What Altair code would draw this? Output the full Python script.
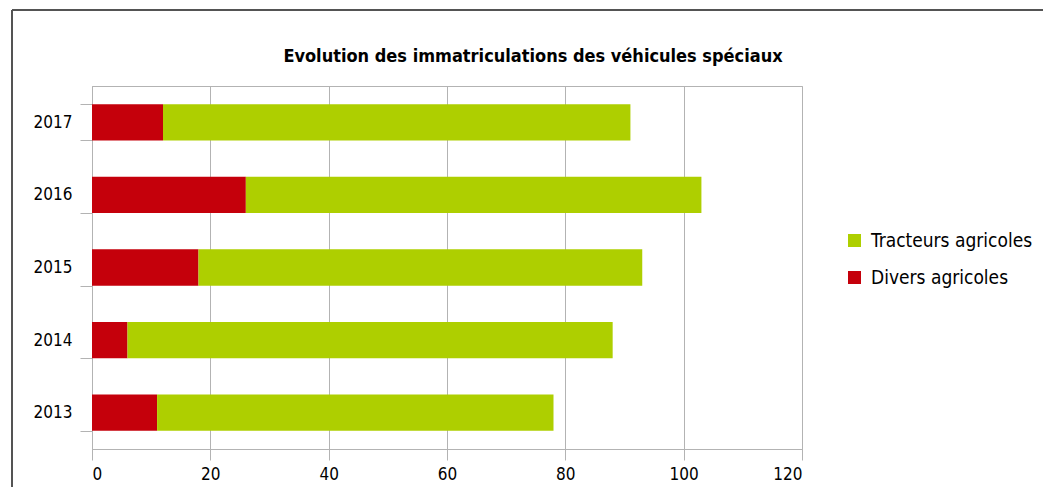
import altair as alt
import pandas as pd

years = ["2013", "2014", "2015", "2016", "2017"]
divers = [11, 6, 18, 26, 12]
tracteurs = [67, 82, 75, 77, 79]
series = ["Tracteurs agricoles", "Divers agricoles"]
colors = ["#aecf00", "#c5000b"]
title_text = "Evolution des immatriculations des véhicules spéciaux"

rows = []
for y, d, t in zip(years, divers, tracteurs):
    rows.append({"year": y, "serie": "Divers agricoles", "value": d, "ord": 0})
    rows.append({"year": y, "serie": "Tracteurs agricoles", "value": t, "ord": 1})
df = pd.DataFrame(rows)

FONT = "'Liberation Sans Narrow', 'Arial Narrow', 'DejaVu Sans Condensed', 'Liberation Sans', sans-serif"
GRAY = "#b3b3b3"

bars = alt.Chart(df).mark_bar().encode(
    y=alt.Y("year:N", sort=years[::-1], title=None,
            scale=alt.Scale(paddingInner=0.5, paddingOuter=0.25),
            axis=alt.Axis(tickBand="extent", tickSize=12, labelPadding=8,
                          tickColor=GRAY, domainColor=GRAY, grid=False,
                          labelFont=FONT, labelFontSize=17, labelColor="#000")),
    x=alt.X("value:Q", stack="zero", title=None,
            scale=alt.Scale(domain=[0, 120], nice=False),
            axis=alt.Axis(values=[0, 20, 40, 60, 80, 100, 120], tickSize=11,
                          labelPadding=6, tickColor=GRAY, domainColor=GRAY,
                          gridColor=GRAY, labelFont=FONT, labelFontSize=17,
                          labelColor="#000")),
    color=alt.Color("serie:N", title=None,
                    scale=alt.Scale(domain=series, range=colors),
                    legend=alt.Legend(orient="none", legendX=753, legendY=145,
                                      symbolType="square", symbolSize=169,
                                      symbolStrokeWidth=0, labelFont=FONT,
                                      labelFontSize=19, labelColor="#000",
                                      labelLimit=300,
                                      rowPadding=17, labelOffset=7, padding=0)),
    order=alt.Order("ord:Q"),
)

title = alt.Chart(pd.DataFrame({"t": [title_text]})).mark_text(
    font=FONT, fontSize=18, fontWeight="bold", color="#000",
    align="center", baseline="alphabetic"
).encode(text="t:N", x=alt.value(441), y=alt.value(-24))

frame_v = alt.Chart(df).mark_rule(color="#555555", strokeWidth=1).encode(
    x=alt.value(-80), y=alt.value(-76), y2=alt.value(600))
frame_h = alt.Chart(df).mark_rule(color="#555555", strokeWidth=1).encode(
    x=alt.value(-80), x2=alt.value(1200), y=alt.value(-76))

chart = alt.layer(bars, title, frame_v, frame_h).properties(
    width=710, height=363,
    autosize=alt.AutoSizeParams(type="none"),
    padding={"left": 84, "top": 78, "right": 241, "bottom": 38},
).configure_view(stroke=GRAY)

chart.save("out.html", embed_options={"renderer": "svg", "actions": False})
